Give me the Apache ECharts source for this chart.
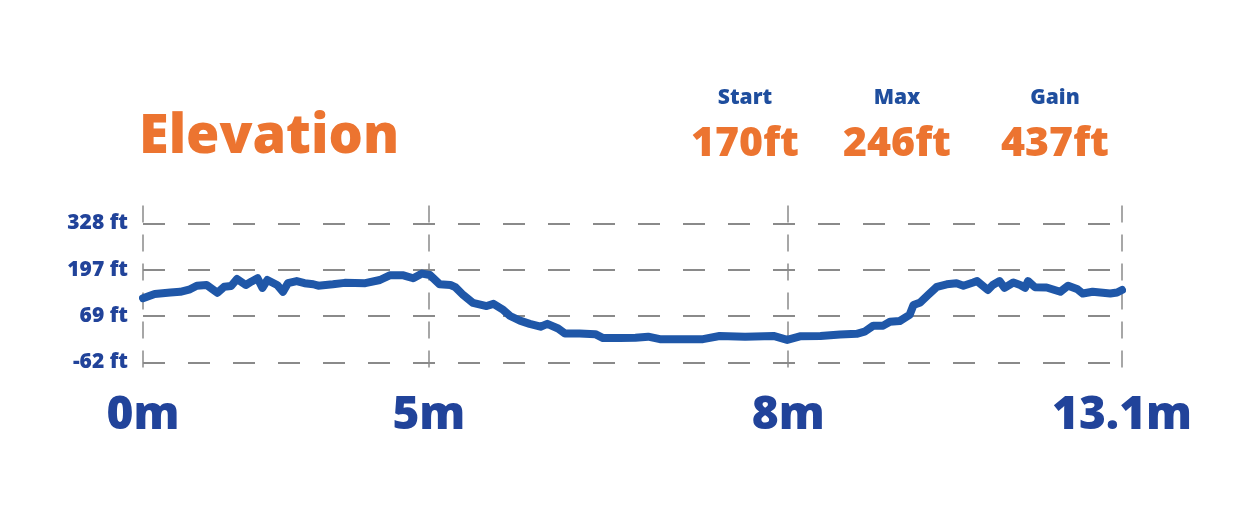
<!DOCTYPE html>
<html>
<head>
<meta charset="utf-8">
<script src="https://cdn.jsdelivr.net/npm/echarts@6/dist/echarts.min.js"></script>
<style>
  html, body { margin: 0; padding: 0; background: #fff; }
  #chart { width: 1250px; height: 521px; }
</style>
</head>
<body>
<div id="chart"></div>
<script>
// position along the route (% of the drawn width) and elevation in ft
const progress = [0, 0.7, 1.2, 2.8, 3.8, 4.8, 5.5, 6.5, 7.1, 7.6, 8.3, 9.0, 9.6, 10.5, 11.1, 11.7, 12.2, 12.7, 13.7, 14.3,
  14.8, 15.7, 16.5, 17.4, 17.9, 19.4, 20.6, 22.7, 24.2, 25.2, 26.6, 27.6, 28.5, 29.3, 30.3, 31.4, 31.9, 32.7, 33.7, 35.1,
  35.8, 36.8, 37.5, 38.5, 39.5, 40.6, 41.3, 42.4, 43.1, 44.6, 46.2, 47.0, 48.7, 50.3, 51.6, 52.8, 54.9, 57.2, 58.9, 61.5,
  64.4, 65.8, 67.1, 69.2, 71.2, 72.9, 73.7, 74.6, 75.6, 76.3, 77.3, 78.3, 78.7, 79.4, 80.2, 81.1, 82.1, 83.1, 83.8, 84.8,
  85.2, 86.3, 86.8, 87.5, 88.0, 88.9, 89.6, 90.1, 90.4, 91.1, 92.3, 93.7, 94.5, 95.4, 96.0, 97.0, 98.8, 99.5, 100]
const elevation = [118, 125, 130, 134, 136, 143, 153, 155, 143, 133, 150, 152, 172, 155, 165, 174, 147, 169, 155, 136,
  160, 166, 160, 157, 153, 157, 161, 160, 169, 182, 182, 174, 187, 183, 157, 155, 149, 127, 105, 96,
  102, 85, 68, 55, 46, 38, 46, 33, 19, 19, 17, 6, 6, 7, 10, 3, 3, 3, 12, 10,
  12, 1, 11, 12, 16, 18, 24, 41, 41, 52, 54, 71, 99, 106, 127, 150, 157, 160, 153, 162,
  166, 141, 155, 166, 147, 162, 155, 147, 166, 149, 148, 136, 153, 144, 131, 136, 131, 134, 141]

const yTicks = [-62, 69, 197, 328]
const xTickPos = [0, 29.2, 65.9, 100]
const xTickLabels = ['0m', '5m', '8m', '13.1m']
const statLabels = ['Start', 'Max', 'Gain']
const statValues = ['170ft', '246ft', '437ft']
const statX = [745, 897, 1055]

const blue = '#21439a'
const orange = '#ec7430'
const font = '"Open Sans", sans-serif'

const chart = echarts.init(document.getElementById('chart'))

const graphics = [{
  type: 'text',
  left: 139,
  top: 111,
  style: { text: 'Elevation', fill: orange, font: '800 54px "Open Sans", sans-serif' }
}]
statLabels.forEach((s, i) => {
  graphics.push({
    type: 'text', x: statX[i], y: 98,
    style: { text: s, fill: '#1f4e9e', font: '800 21px "Open Sans", sans-serif', align: 'center', verticalAlign: 'middle' }
  })
  graphics.push({
    type: 'text', x: statX[i], y: 144,
    style: { text: statValues[i], fill: orange, font: '800 41px "Open Sans", sans-serif', align: 'center', verticalAlign: 'middle' }
  })
})

const option = {
  animation: false,
  backgroundColor: '#fff',
  graphic: graphics,
  grid: { left: 143, right: 128, top: 205.5, bottom: 152.6, containLabel: false },
  xAxis: {
    type: 'value',
    min: 0,
    max: 100,
    axisLine: { show: false },
    axisTick: { show: false, customValues: xTickPos },
    axisLabel: {
      customValues: xTickPos,
      formatter: v => xTickLabels[xTickPos.indexOf(v)] || '',
      color: blue,
      fontFamily: font,
      fontWeight: 800,
      fontSize: 46,
      margin: 24
    },
    splitLine: {
      show: true,
      lineStyle: { color: '#8a8a8a', width: 1.5, type: [17, 12] }
    }
  },
  yAxis: {
    type: 'value',
    min: -79,
    max: 378,
    axisLine: { show: false },
    axisTick: { show: false, customValues: yTicks },
    axisLabel: {
      customValues: yTicks,
      formatter: v => v + ' ft',
      color: blue,
      fontFamily: font,
      fontWeight: 800,
      fontSize: 21,
      margin: 15
    },
    splitLine: {
      show: true,
      lineStyle: { color: '#8a8a8a', width: 2, type: [22, 23] }
    }
  },
  series: [{
    type: 'line',
    data: progress.map((p, i) => [p, elevation[i]]),
    showSymbol: false,
    lineStyle: { color: '#1f57a8', width: 8, cap: 'round', join: 'round' }
  }]
}

chart.setOption(option)
</script>
</body>
</html>
